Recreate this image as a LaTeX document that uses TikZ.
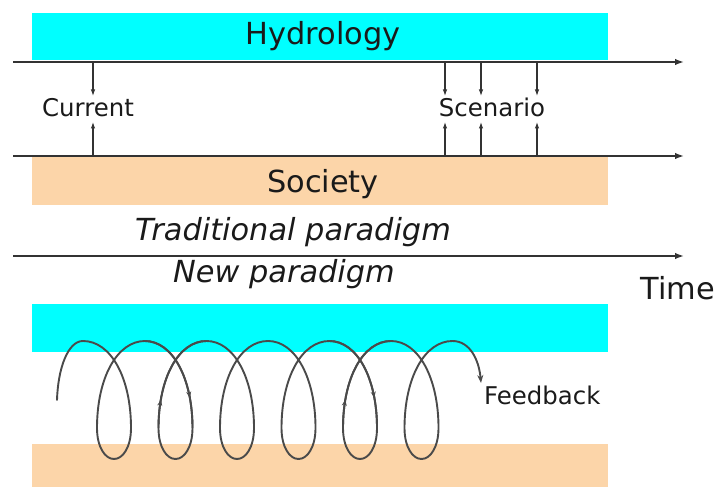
\documentclass[tikz,border=0pt]{standalone}
\usepackage{fontspec}
\setmainfont{DejaVu Sans}
\usetikzlibrary{arrows.meta,decorations.markings}
\definecolor{hydro}{HTML}{00FFFF}
\definecolor{soc}{HTML}{FCD5A9}
\definecolor{linec}{HTML}{333333}
\definecolor{spir}{HTML}{4A4A4A}
\definecolor{txt}{HTML}{1A1A1A}
\begin{document}
\begin{tikzpicture}[x=1bp,y=-1bp,
  band/.style={anchor=north west,inner sep=0pt,outer sep=0pt,minimum width=576bp},
  bigtext/.style={anchor=base,inner sep=0pt,text=txt,font=\fontsize{30.5}{35}\selectfont},
  smalltext/.style={anchor=base,inner sep=0pt,text=txt,font=\fontsize{24.5}{28}\selectfont},
  timeline/.style={draw=linec,line width=1.7bp,-{Latex[length=9bp,width=6.5bp]}},
  varrow/.style={draw=linec,line width=1.1bp,-{Latex[length=6.5bp,width=4.5bp]}},
  spiral/.style={draw=spir,line width=1.9bp,line cap=round,line join=round},
  marked/.style={decoration={markings,mark=at position #1 with {\arrow{Stealth[length=6bp,width=5bp]}}},postaction={decorate}}
]
\useasboundingbox (0,0) rectangle (717,487);
\fill[white] (0,0) rectangle (717,487);

% bands
\node[band,fill=hydro,minimum height=47bp] (hydtop) at (32,13) {};
\node[band,fill=soc,minimum height=48bp] (soctop) at (32,157) {};
\node[band,fill=hydro,minimum height=48bp] (hydbot) at (32,304) {};
\node[band,fill=soc,minimum height=43bp] (socbot) at (32,444) {};

% labels
\node[bigtext] (lhyd) at (323,45) {Hydrology};
\node[bigtext] (lsoc) at (323,193) {Society};
\node[smalltext] (lcur) at (88,117) {Current};
\node[smalltext] (lscen) at (492,117) {Scenario};
\node[bigtext,font=\fontsize{30.5}{35}\selectfont\itshape] (ltrad) at (293,241) {Traditional paradigm};
\node[bigtext,font=\fontsize{30.5}{35}\selectfont\itshape] (lnew) at (284,283) {New paradigm};
\node[bigtext] (ltime) at (678,299) {Time};
\node[smalltext,anchor=base west] (lfeed) at (484,404) {Feedback};

% time lines
\coordinate (h1s) at (13,62);  \coordinate (h1e) at (684,62);
\coordinate (h2s) at (13,156); \coordinate (h2e) at (684,156);
\coordinate (h3s) at (13,256); \coordinate (h3e) at (684,256);
\draw[timeline] (h1s) -- (h1e);
\draw[timeline] (h2s) -- (h2e);
\draw[timeline] (h3s) -- (h3e);

% vertical exchange arrows
\foreach \n/\xx in {a/93,b/445,c/481,d/537}{
  \coordinate (top\n) at (\xx,62);
  \coordinate (topend\n) at (\xx,96);
  \coordinate (bot\n) at (\xx,156);
  \coordinate (botend\n) at (\xx,122);
  \draw[varrow] (top\n) -- (topend\n);
  \draw[varrow] (bot\n) -- (botend\n);
}

% feedback spiral
\coordinate (sstart) at (57,400);
\coordinate (send) at (481,383);
\draw[spiral,-{Stealth[length=8bp,width=6bp]}] (sstart) .. controls (58,368) and (68,341) .. (83,341)
  \foreach \i [evaluate=\i as \cx using 114+61.5*\i] in {0,...,5}{
    .. controls ({\cx-3},341) and ({\cx+17},378) .. ({\cx+17},428)
    .. controls ({\cx+17},447) and ({\cx+9},459) .. (\cx,459)
    .. controls ({\cx-9},459) and ({\cx-17},447) .. ({\cx-17},428)
    .. controls ({\cx-17},378) and ({\cx+3},341) .. ({\cx+31},341)
  }
  .. controls (470,341) and (479,360) .. (send);

% direction marks on the spiral
\foreach \cx in {175.5,360}{
  \draw[spiral,marked=0.72] ({\cx-31},341) .. controls ({\cx-3},341) and ({\cx+17},378) .. ({\cx+17},428);
  \draw[spiral,marked=0.26] ({\cx-17},428) .. controls ({\cx-17},378) and ({\cx+3},341) .. ({\cx+31},341);
}
\end{tikzpicture}
\end{document}
